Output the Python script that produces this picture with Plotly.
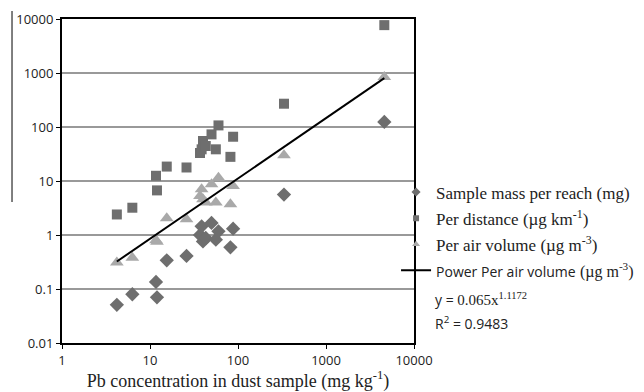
import numpy as np
import plotly.graph_objects as go

# Pb concentration in dust sample (mg/kg)
pb_conc = [4.2, 6.3, 11.7, 12.0, 15.5, 26.0, 37.0, 38.6, 40.0, 43.0, 50.0, 56.0, 60.0, 82.0, 88.0, 333.0, 4600.0]
# Sample mass per reach (mg)
mass_per_reach = [0.051, 0.080, 0.135, 0.070, 0.34, 0.41, 1.0, 1.45, 0.76, 0.88, 1.67, 0.82, 1.17, 0.59, 1.31, 5.6, 124.0]
# Per distance (ug/km)
per_distance = [2.4, 3.2, 12.5, 6.7, 18.5, 17.8, 33.0, 38.6, 55.0, 44.5, 73.0, 38.6, 107.0, 28.0, 66.0, 270.0, 7700.0]
# Per air volume (ug/m3)
per_air_volume = [0.31, 0.38, 0.80, 0.75, 2.05, 1.95, 5.3, 7.0, 4.6, 4.0, 8.7, 4.0, 11.5, 3.7, 8.1, 30.0, 845.0]

# Power trendline coefficients (Per air volume)
fit_a = 0.065
fit_b = 1.1172
fit_r2 = 0.9483

y_tickvals = [0.01, 0.1, 1, 10, 100, 1000, 10000]
y_ticktext = ["0.01", "0.1", "1", "10", "100", "1000", "10000"]
x_tickvals = [1, 10, 100, 1000, 10000]
x_ticktext = ["1", "10", "100", "1000", "10000"]

dark = "#6e6e6e"
light = "#a9a9a9"
serif = "Liberation Serif"
sans = "Open Sans"

names = ["Sample mass per reach (mg)",
         "Per distance (µg km<sup>-1</sup>)",
         "Per air volume (µg m<sup>-3</sup>)",
         "<span style='font-family:Open Sans;font-size:14px'>Power Per air volume</span> "
         "<span style='font-size:16px'>(µg m<sup>-3</sup>)</span>"]

fit_x = np.logspace(np.log10(min(pb_conc)), np.log10(max(pb_conc)), 100)
fit_y = fit_a * fit_x ** fit_b

fig = go.Figure()
fig.add_trace(go.Scatter(x=pb_conc, y=mass_per_reach, mode="markers", showlegend=False,
                         marker=dict(symbol="diamond", size=11, color=dark)))
fig.add_trace(go.Scatter(x=pb_conc, y=per_distance, mode="markers", showlegend=False,
                         marker=dict(symbol="square", size=10, color=dark)))
fig.add_trace(go.Scatter(x=pb_conc, y=per_air_volume, mode="markers", showlegend=False,
                         marker=dict(symbol="triangle-up", size=12, color=light)))
fig.add_trace(go.Scatter(x=fit_x, y=fit_y, mode="lines", showlegend=False,
                         line=dict(color="black", width=2)))

# legend entries (small symbols as in the original)
fig.add_trace(go.Scatter(x=[None], y=[None], mode="markers", name=names[0], legendgroup="a",
                         marker=dict(symbol="diamond", size=7, color=dark)))
fig.add_trace(go.Scatter(x=[None], y=[None], mode="markers", name=names[1], legendgroup="b",
                         marker=dict(symbol="square", size=6, color=dark)))
fig.add_trace(go.Scatter(x=[None], y=[None], mode="markers", name=names[2], legendgroup="c",
                         marker=dict(symbol="triangle-up", size=7, color=light)))
fig.add_trace(go.Scatter(x=[None], y=[None], mode="lines", name=names[3], legendgroup="d",
                         line=dict(color="black", width=2)))

# page body adds an 8px offset, so the figure is drawn 8px smaller
fig.update_layout(
    width=636, height=384,
    margin=dict(l=54, r=230, t=11, b=49, autoexpand=False),
    paper_bgcolor="white", plot_bgcolor="white",
    showlegend=True,
    legend=dict(x=0.949, y=0.52, xanchor="left", yanchor="top",
                bgcolor="rgba(0,0,0,0)", font=dict(family=serif, size=17, color="#222"),
                itemsizing="trace", tracegroupgap=1, itemwidth=30),
    font=dict(family=sans, size=13, color="#222"),
)
fig.update_xaxes(type="log", range=[0, 4], tickvals=x_tickvals, ticktext=x_ticktext,
                 showgrid=False, showline=True, linecolor="black", linewidth=2, mirror=True,
                 ticks="outside", ticklen=4, tickcolor="black",
                 title=dict(text="Pb concentration in dust sample (mg kg<sup>-1</sup>)",
                            font=dict(family=serif, size=18, color="#222"), standoff=2),
                 tickfont=dict(family=sans, size=13), zeroline=False)
fig.update_yaxes(type="log", range=[-2, 4], tickvals=y_tickvals, ticktext=y_ticktext,
                 showgrid=True, gridcolor="#999999", gridwidth=1.5,
                 showline=True, linecolor="black", linewidth=2, mirror=True,
                 ticks="outside", ticklen=4, tickcolor="black",
                 tickfont=dict(family=sans, size=13), zeroline=False)

fig.add_annotation(xref="paper", yref="paper", x=1.054, y=0.135, xanchor="left", yanchor="middle",
                   showarrow=False, align="left",
                   text=f"y = <span style='font-family:{serif};font-size:15px'>{fit_a}x<sup>{fit_b}</sup></span>",
                   font=dict(family=sans, size=14, color="#222"))
fig.add_annotation(xref="paper", yref="paper", x=1.054, y=0.062, xanchor="left", yanchor="middle",
                   showarrow=False, align="left",
                   text=f"R<sup>2</sup> = {fit_r2}",
                   font=dict(family=sans, size=14, color="#222"))

# stray vertical rule at far left of the original figure
fig.add_shape(type="line", xref="paper", yref="paper", x0=-0.142, x1=-0.142, y0=1.025, y1=0.435,
              line=dict(color="#555555", width=1.5))

fig.write_html("out.html")
